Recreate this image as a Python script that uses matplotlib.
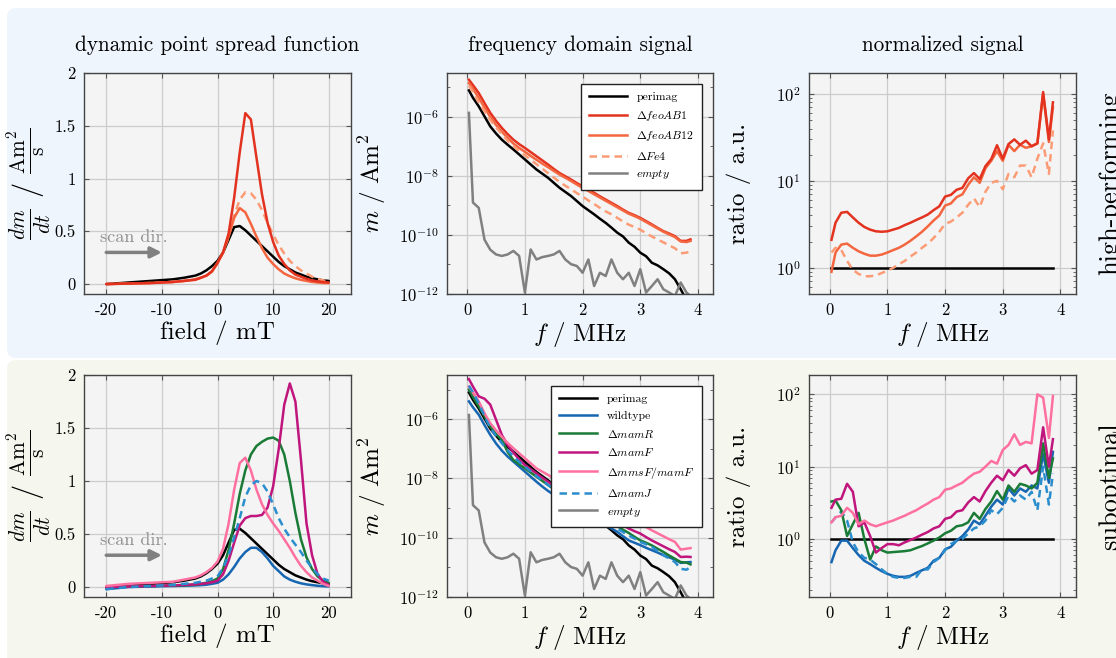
import numpy as np
import matplotlib
matplotlib.use("Agg")
import matplotlib.pyplot as plt
from matplotlib.patches import FancyBboxPatch
from matplotlib.ticker import LogLocator, NullFormatter

plt.rcParams['font.family'] = 'cmr10'
plt.rcParams['mathtext.fontset'] = 'cm'
plt.rcParams['axes.unicode_minus'] = False
plt.rcParams['axes.formatter.use_mathtext'] = True

# ---------------- data ----------------
# dynamic point spread function (field in mT)
field = [-20, -16, -12, -8, -6, -4, -3, -2, -1, 0, 1, 2, 3, 4, 5, 6, 7, 8, 9, 10,
         11, 12, 13, 14, 15, 16, 17, 18, 19, 20]
psf_perimag = [0.0, 0.015, 0.03, 0.045, 0.06, 0.08, 0.1, 0.13, 0.17, 0.22, 0.3, 0.42, 0.54, 0.55,
               0.51, 0.46, 0.41, 0.36, 0.31, 0.26, 0.21, 0.17, 0.14, 0.11, 0.09, 0.07, 0.055, 0.045,
               0.035, 0.03]
psf_feoAB1 = [0.0, 0.005, 0.01, 0.02, 0.03, 0.04, 0.06, 0.08, 0.12, 0.2, 0.3, 0.48, 0.82, 1.25,
              1.62, 1.56, 1.2, 0.85, 0.58, 0.4, 0.27, 0.19, 0.13, 0.09, 0.07, 0.05, 0.035, 0.025,
              0.02, 0.015]
psf_feoAB12 = [0.0, 0.005, 0.01, 0.02, 0.03, 0.045, 0.06, 0.08, 0.12, 0.2, 0.3, 0.45, 0.63, 0.72,
               0.68, 0.57, 0.45, 0.34, 0.25, 0.19, 0.14, 0.1, 0.075, 0.055, 0.04, 0.03, 0.02,
               0.015, 0.01, 0.01]
psf_Fe4 = [0.0, 0.005, 0.01, 0.02, 0.03, 0.045, 0.06, 0.08, 0.12, 0.2, 0.3, 0.45, 0.65, 0.8,
           0.87, 0.86, 0.8, 0.7, 0.58, 0.47, 0.37, 0.29, 0.22, 0.17, 0.13, 0.1, 0.07, 0.05,
           0.035, 0.025]
psf_wildtype = [-0.02, 0.0, 0.005, 0.01, 0.012, 0.015, 0.018, 0.022, 0.03, 0.04, 0.07, 0.12, 0.19,
                0.27, 0.33, 0.37, 0.37, 0.33, 0.27, 0.2, 0.15, 0.1, 0.07, 0.05, 0.035, 0.025,
                0.018, 0.012, 0.008, 0.005]
psf_mamR = [0.0, 0.005, 0.01, 0.015, 0.018, 0.022, 0.03, 0.04, 0.055, 0.08, 0.17, 0.35, 0.6, 0.88,
            1.1, 1.25, 1.33, 1.37, 1.4, 1.41, 1.38, 1.25, 1.0, 0.7, 0.45, 0.28, 0.17, 0.1,
            0.06, 0.04]
psf_mamF = [0.0, 0.005, 0.01, 0.015, 0.02, 0.025, 0.03, 0.035, 0.045, 0.06, 0.12, 0.25, 0.42, 0.58,
            0.65, 0.67, 0.67, 0.68, 0.75, 0.95, 1.3, 1.72, 1.92, 1.75, 1.2, 0.6, 0.3, 0.12,
            0.05, 0.02]
psf_mmsF = [0.01, 0.03, 0.04, 0.05, 0.07, 0.09, 0.11, 0.14, 0.18, 0.24, 0.36, 0.6, 0.92, 1.17,
            1.22, 1.1, 0.92, 0.78, 0.68, 0.6, 0.53, 0.45, 0.37, 0.28, 0.2, 0.14, 0.09, 0.06,
            0.03, 0.01]
psf_mamJ = [-0.02, 0.0, 0.01, 0.02, 0.03, 0.04, 0.05, 0.06, 0.08, 0.1, 0.18, 0.3, 0.47, 0.65,
            0.85, 0.96, 1.0, 0.98, 0.9, 0.78, 0.65, 0.55, 0.47, 0.4, 0.33, 0.25, 0.18, 0.12,
            0.08, 0.06]

# frequency axis (MHz)
freq = [0.03, 0.1, 0.2, 0.3, 0.4, 0.5, 0.6, 0.7, 0.8, 0.9, 1.0, 1.1, 1.2, 1.3, 1.4, 1.5, 1.6,
        1.7, 1.8, 1.9, 2.0, 2.1, 2.2, 2.3, 2.4, 2.5, 2.6, 2.7, 2.8, 2.9, 3.0, 3.1, 3.2, 3.3,
        3.4, 3.5, 3.6, 3.7, 3.8, 3.87]

# frequency domain signal, log10(m / Am^2)
lg_perimag = [-5.1, -5.35, -5.64, -5.98, -6.32, -6.56, -6.77, -6.94, -7.1, -7.27, -7.44, -7.61,
              -7.78, -7.92, -8.06, -8.23, -8.4, -8.54, -8.68, -8.85, -9.02, -9.16, -9.3, -9.45,
              -9.59, -9.75, -9.92, -10.05, -10.26, -10.4, -10.6, -10.72, -10.94, -11.03, -11.16,
              -11.3, -11.5, -11.84, -12.2, -12.3]
lg_feoAB1 = [-4.74, -4.92, -5.19, -5.53, -5.86, -6.13, -6.37, -6.58, -6.77, -6.92, -7.05, -7.19,
             -7.33, -7.47, -7.61, -7.76, -7.9, -8.01, -8.12, -8.24, -8.35, -8.46, -8.57, -8.69,
             -8.8, -8.91, -9.02, -9.14, -9.25, -9.33, -9.42, -9.53, -9.64, -9.76, -9.87, -9.95,
             -10.04, -10.2, -10.2, -10.15]
lg_feoAB12 = [-4.85, -5.05, -5.35, -5.68, -6.0, -6.27, -6.5, -6.71, -6.9, -7.05, -7.18, -7.32,
              -7.45, -7.58, -7.7, -7.83, -7.95, -8.06, -8.17, -8.29, -8.4, -8.51, -8.62, -8.73,
              -8.84, -8.95, -9.06, -9.17, -9.28, -9.36, -9.45, -9.56, -9.67, -9.78, -9.89, -9.98,
              -10.07, -10.22, -10.24, -10.2]
lg_Fe4 = [-4.94, -5.15, -5.5, -5.8, -6.1, -6.35, -6.58, -6.8, -6.98, -7.15, -7.3, -7.45, -7.6,
          -7.75, -7.9, -8.05, -8.2, -8.33, -8.45, -8.58, -8.7, -8.83, -8.95, -9.08, -9.2, -9.3,
          -9.42, -9.54, -9.65, -9.73, -9.82, -9.94, -10.05, -10.15, -10.25, -10.35, -10.45,
          -10.62, -10.6, -10.55]
lg_empty = [-5.86, -8.9, -9.08, -10.16, -10.5, -10.66, -10.71, -10.66, -10.54, -10.71, -11.95,
            -10.49, -10.83, -10.75, -10.71, -10.66, -10.54, -10.83, -10.99, -11.05, -11.28, -10.83,
            -11.73, -11.28, -11.39, -10.83, -11.28, -11.5, -11.28, -11.73, -11.16, -11.95, -11.73,
            -11.5, -11.84, -11.95, -12.07, -11.61, -11.95, -12.07]
lg_wildtype = [-5.4, -5.6, -5.85, -6.2, -6.53, -6.82, -7.06, -7.26, -7.43, -7.6, -7.77, -7.94,
               -8.11, -8.27, -8.42, -8.55, -8.67, -8.77, -8.87, -8.96, -9.05, -9.18, -9.3, -9.44,
               -9.58, -9.69, -9.8, -9.95, -10.09, -10.17, -10.25, -10.34, -10.42, -10.5, -10.59,
               -10.66, -10.74, -10.85, -10.83, -10.82]
lg_mamR = [-5.0, -5.25, -5.57, -5.9, -6.25, -6.5, -6.7, -7.1, -7.38, -7.52, -7.66, -7.8, -7.94,
           -8.08, -8.22, -8.35, -8.48, -8.6, -8.71, -8.82, -8.93, -9.05, -9.16, -9.28, -9.39,
           -9.5, -9.61, -9.73, -9.84, -9.97, -10.09, -10.17, -10.26, -10.37, -10.48, -10.6,
           -10.71, -10.82, -10.84, -10.9]
lg_mamF = [-4.65, -4.9, -5.23, -5.31, -5.51, -6.02, -6.53, -6.87, -7.13, -7.35, -7.55, -7.69,
           -7.83, -7.97, -8.11, -8.24, -8.37, -8.49, -8.6, -8.71, -8.82, -8.94, -9.05, -9.15,
           -9.24, -9.35, -9.46, -9.58, -9.69, -9.78, -9.86, -9.98, -10.09, -10.19, -10.29,
           -10.39, -10.48, -10.65, -10.64, -10.65]
lg_mmsF = [-4.9, -5.1, -5.4, -5.8, -6.14, -6.38, -6.59, -6.8, -6.98, -7.15, -7.32, -7.49, -7.66,
           -7.77, -7.88, -8.0, -8.11, -8.23, -8.34, -8.42, -8.51, -8.62, -8.73, -8.85, -8.96,
           -9.05, -9.13, -9.24, -9.35, -9.44, -9.52, -9.64, -9.75, -9.85, -9.95, -10.05, -10.14,
           -10.4, -10.37, -10.35]
lg_mamJ = [-4.87, -5.1, -5.46, -5.9, -6.3, -6.57, -6.81, -7.05, -7.26, -7.44, -7.6, -7.76,
           -7.92, -8.07, -8.22, -8.36, -8.5, -8.62, -8.73, -8.85, -8.96, -9.08, -9.2, -9.32,
           -9.43, -9.56, -9.69, -9.81, -9.92, -10.03, -10.14, -10.22, -10.31, -10.45, -10.59,
           -10.7, -10.82, -11.05, -11.08, -10.99]

# normalized signal (ratio to perimag)
rat_feoAB1 = [2.1, 3.3, 4.3, 4.4, 3.8, 3.3, 2.95, 2.75, 2.63, 2.6, 2.63, 2.75, 2.88, 3.1, 3.3,
              3.55, 3.8, 4.1, 4.6, 5.1, 6.6, 6.9, 7.9, 8.3, 10.7, 12.3, 10.5, 14.8, 17.8, 25.7,
              18.0, 26.5, 30.0, 26.0, 29.0, 25.0, 27.0, 105.0, 30.0, 80.0]
rat_feoAB12 = [0.9, 1.5, 1.85, 1.9, 1.7, 1.55, 1.45, 1.38, 1.38, 1.42, 1.5, 1.6, 1.7, 1.85, 2.05,
               2.3, 2.6, 3.0, 3.5, 4.0, 5.2, 5.5, 6.5, 7.0, 9.0, 11.0, 9.5, 14.0, 17.0, 22.0, 17.0,
               26.0, 22.0, 26.0, 24.0, 25.0, 27.0, 100.0, 28.0, 70.0]
rat_Fe4 = [1.5, 1.7, 1.6, 1.2, 0.95, 0.85, 0.8, 0.8, 0.82, 0.87, 0.93, 1.0, 1.1, 1.2, 1.35, 1.5,
           1.7, 1.9, 2.2, 2.6, 3.2, 3.4, 3.8, 4.3, 5.3, 6.3, 5.0, 7.5, 9.5, 10.0, 8.0, 12.0, 11.0,
           15.0, 15.0, 11.0, 18.0, 27.0, 12.0, 38.0]
rat_wildtype = [0.48, 0.7, 0.95, 0.95, 0.75, 0.6, 0.5, 0.45, 0.4, 0.36, 0.33, 0.31, 0.3, 0.3,
                0.31, 0.34, 0.37, 0.4, 0.5, 0.55, 0.72, 0.78, 0.95, 1.1, 1.35, 1.8, 1.6, 2.1, 2.8,
                3.5, 3.0, 5.0, 4.0, 5.0, 4.5, 5.5, 5.0, 15.0, 6.0, 16.0]
rat_mamJ = [1.7, 2.0, 2.4, 1.8, 0.9, 0.65, 0.55, 0.52, 0.45, 0.38, 0.33, 0.3, 0.29, 0.29, 0.3,
            0.3, 0.38, 0.38, 0.48, 0.55, 0.7, 0.85, 0.95, 1.0, 1.2, 1.4, 1.5, 1.8, 2.5, 2.2, 2.7,
            4.0, 3.3, 4.0, 3.5, 4.5, 2.5, 10.0, 3.0, 8.0]
rat_mamR = [3.3, 3.4, 2.5, 1.1, 1.6, 2.3, 1.0, 0.52, 0.79, 0.7, 0.65, 0.66, 0.67, 0.68, 0.7,
            0.75, 0.8, 0.87, 0.95, 1.05, 1.2, 1.3, 1.5, 1.55, 1.7, 2.3, 1.9, 2.6, 3.3, 4.6, 3.5,
            5.5, 4.5, 5.8, 5.5, 5.0, 6.0, 21.0, 7.0, 13.0]
rat_mamF = [2.7, 3.5, 3.6, 5.8, 4.5, 1.5, 1.7, 1.1, 0.65, 0.75, 0.85, 0.85, 0.82, 0.9, 0.97, 1.05,
            1.15, 1.25, 1.4, 1.5, 1.9, 2.0, 2.4, 2.5, 3.2, 3.8, 3.3, 4.6, 6.0, 7.5, 6.5, 9.0, 7.5,
            9.5, 10.5, 8.0, 9.0, 35.0, 10.0, 24.0]
rat_mmsF = [1.7, 2.0, 2.1, 2.7, 2.3, 1.6, 1.8, 1.6, 1.5, 1.6, 1.7, 1.8, 1.95, 2.1, 2.3, 2.5, 2.8,
            3.1, 3.5, 3.8, 4.8, 5.0, 5.5, 6.0, 7.0, 8.0, 8.5, 10.0, 12.0, 11.0, 17.0, 20.0, 28.0,
            20.0, 22.0, 21.0, 100.0, 90.0, 25.0, 95.0]

# ---------------- style ----------------
C_PERI = '#000000'
C_AB1 = '#e3321f'
C_AB12 = '#f4663f'
C_FE4 = '#fc9c76'
C_EMPTY = '#808080'
C_WT = '#1766b1'
C_R = '#1a7b37'
C_F = '#c0157c'
C_MMS = '#ff6f9f'
C_J = '#2a8dcd'
LW = 1.8
DASH = (3, 2)

fig = plt.figure(figsize=(11.16, 6.58), dpi=100)
W, H = 1116.0, 658.0

# panel backgrounds
for (y0, y1, col) in [(8, 358, '#eff5fd'), (360, 668, '#f5f7ee')]:
    fig.patches.append(FancyBboxPatch((7 / W, 1 - y1 / H), 1.2 - 7 / W, (y1 - y0) / H,
                                      boxstyle='round,pad=0,rounding_size=0.008',
                                      mutation_aspect=W / H, transform=fig.transFigure,
                                      facecolor=col, edgecolor='none', zorder=-10))


def make_ax(x0, x1, y0, y1):
    ax = fig.add_axes([x0 / W, 1 - y1 / H, (x1 - x0) / W, (y1 - y0) / H])
    ax.set_facecolor('#f4f4f4')
    ax.grid(True, which='major', color='#cccccc', lw=0.9)
    ax.set_axisbelow(True)
    for s in ax.spines.values():
        s.set_color('#444444')
        s.set_linewidth(1.0)
    ax.tick_params(which='both', direction='in', top=True, right=True, labelsize=12,
                   color='#555555', pad=6)
    ax.tick_params(which='major', length=3.5)
    ax.tick_params(which='minor', length=2)
    return ax


cols = [(84, 351), (447, 713), (809, 1076)]
rows = [(73, 294), (375, 597)]


def psf_axis(ax, series):
    for y, c, ls in series:
        ax.plot(field, y, color=c, lw=LW, ls='-' if ls == '-' else (0, DASH), solid_capstyle='round')
    ax.set_xlim(-24, 24)
    ax.set_ylim(-0.094, 2.0)
    ax.set_xticks([-20, -10, 0, 10, 20], ['-20', '-10', '0', '10', '20'])
    ax.set_yticks([0, 0.5, 1, 1.5, 2], ['0', '0.5', '1', '1.5', '2'])
    ax.set_xlabel('field / mT', fontsize=18, labelpad=2)
    ax.set_ylabel(r'$\frac{dm}{dt}\ /\ \frac{\mathrm{Am}^2}{\mathrm{s}}$', fontsize=22, labelpad=1)
    ax.annotate('', xy=(-10, 0.3), xytext=(-20, 0.3),
                arrowprops=dict(arrowstyle='-|>', color='#808080', lw=2.5, mutation_scale=16,
                                shrinkA=0, shrinkB=0))
    ax.text(-15, 0.37, 'scan dir.', color='#909090', fontsize=13, ha='center', va='bottom')


def sig_axis(ax, series):
    for y, c, ls, lab in series:
        ax.plot(freq, 10.0 ** np.array(y), color=c, lw=LW,
                ls='-' if ls == '-' else (0, DASH), label=lab)
    ax.set_yscale('log')
    ax.set_xlim(-0.35, 4.26)
    ax.set_ylim(1e-12, 10 ** -4.51)
    ax.set_xticks([0, 1, 2, 3, 4], ['0', '1', '2', '3', '4'])
    ax.yaxis.set_major_locator(LogLocator(base=100.0))
    ax.yaxis.set_minor_locator(LogLocator(base=10.0, subs=(1.0,), numticks=20))
    ax.yaxis.set_minor_formatter(NullFormatter())
    ax.set_xlabel(r'$f\ /\ \mathrm{MHz}$', fontsize=18, labelpad=2)
    ax.set_ylabel(r'$m\ /\ \mathrm{Am}^2$', fontsize=18, labelpad=8)
    leg = ax.legend(loc='upper right', fontsize=8.5, frameon=True, fancybox=False,
                    edgecolor='#222222', framealpha=1, handlelength=3.2, borderpad=0.7,
                    labelspacing=0.55, bbox_to_anchor=(0.982, 0.978))
    leg.get_frame().set_linewidth(1.0)


def ratio_axis(ax, series, ylo, yhi):
    ax.plot([freq[0], freq[-1]], [1, 1], color=C_PERI, lw=LW)
    for y, c, ls in series:
        ax.plot(freq, y, color=c, lw=LW, ls='-' if ls == '-' else (0, DASH))
    ax.set_yscale('log')
    ax.set_xlim(-0.36, 4.27)
    ax.set_ylim(ylo, yhi)
    ax.set_xticks([0, 1, 2, 3, 4], ['0', '1', '2', '3', '4'])
    ax.yaxis.set_minor_formatter(NullFormatter())
    ax.set_xlabel(r'$f\ /\ \mathrm{MHz}$', fontsize=18, labelpad=2)
    ax.set_ylabel('ratio / a.u.', fontsize=18, labelpad=18)


# top row: high-performing
ax = make_ax(*cols[0], *rows[0])
psf_axis(ax, [(psf_perimag, C_PERI, '-'), (psf_Fe4, C_FE4, '--'),
              (psf_feoAB12, C_AB12, '-'), (psf_feoAB1, C_AB1, '-')])
ax.set_title('dynamic point spread function', fontsize=15.3, pad=16)

ax = make_ax(*cols[1], *rows[0])
sig_axis(ax, [(lg_perimag, C_PERI, '-', 'perimag'),
              (lg_feoAB1, C_AB1, '-', r'$\Delta\mathit{feoAB1}$'),
              (lg_feoAB12, C_AB12, '-', r'$\Delta\mathit{feoAB12}$'),
              (lg_Fe4, C_FE4, '--', r'$\Delta\mathit{Fe4}$'),
              (lg_empty, C_EMPTY, '-', r'$\mathit{empty}$')])
ax.set_title('frequency domain signal', fontsize=15.3, pad=16)

ax = make_ax(*cols[2], *rows[0])
ratio_axis(ax, [(rat_Fe4, C_FE4, '--'), (rat_feoAB12, C_AB12, '-'), (rat_feoAB1, C_AB1, '-')],
           0.5, 174)
ax.set_title('normalized signal', fontsize=15.3, pad=16)

# bottom row: suboptimal
ax = make_ax(*cols[0], *rows[1])
psf_axis(ax, [(psf_perimag, C_PERI, '-'), (psf_wildtype, C_WT, '-'), (psf_mamR, C_R, '-'),
              (psf_mamF, C_F, '-'), (psf_mmsF, C_MMS, '-'), (psf_mamJ, C_J, '--')])

ax = make_ax(*cols[1], *rows[1])
sig_axis(ax, [(lg_perimag, C_PERI, '-', 'perimag'),
              (lg_wildtype, C_WT, '-', 'wildtype'),
              (lg_mamR, C_R, '-', r'$\Delta\mathit{mamR}$'),
              (lg_mamF, C_F, '-', r'$\Delta\mathit{mamF}$'),
              (lg_mmsF, C_MMS, '-', r'$\Delta\mathit{mmsF/mamF}$'),
              (lg_mamJ, C_J, '--', r'$\Delta\mathit{mamJ}$'),
              (lg_empty, C_EMPTY, '-', r'$\mathit{empty}$')])

ax = make_ax(*cols[2], *rows[1])
ratio_axis(ax, [(rat_wildtype, C_WT, '-'), (rat_mamJ, C_J, '--'), (rat_mamR, C_R, '-'),
                (rat_mamF, C_F, '-'), (rat_mmsF, C_MMS, '-')], 0.158, 185)

# row labels on the right edge (cut by the page border)
fig.text(1098 / W, 1 - 183 / H, 'high-performing', rotation=90, fontsize=19,
         ha='left', va='center')
fig.text(1098 / W, 1 - 486 / H, 'suboptimal', rotation=90, fontsize=19,
         ha='left', va='center')

fig.savefig('out.png', dpi=100)
